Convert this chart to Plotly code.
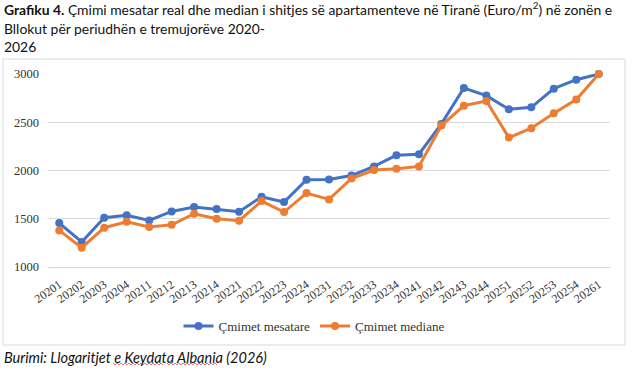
import plotly.graph_objects as go

categories = ["20201","20202","20203","20204","20211","20212","20213","20214",
              "20221","20222","20223","20224","20231","20232","20233","20234",
              "20241","20242","20243","20244","20251","20252","20253","20254","20261"]
mesatare = [1455,1259,1510,1535,1483,1576,1621,1600,1573,1728,1673,1904,1907,
            1948,2042,2159,2169,2483,2855,2776,2635,2655,2848,2941,3000]
mediane = [1379,1200,1407,1468,1414,1438,1552,1500,1480,1683,1569,1766,1700,
           1917,2004,2017,2042,2466,2672,2721,2341,2438,2593,2735,3000]
y_ticks = [1000,1500,2000,2500,3000]

BLUE = "#4472C4"
ORANGE = "#ED7D31"

# plot area pixels
L, R, T, B = 48, 610, 74, 267
W, H = R - L, B - T
def px(x): return (x - L) / W
def py(y): return (B - y) / H

fig = go.Figure()
fig.add_trace(go.Scatter(x=categories, y=mesatare, mode="lines+markers", name="Çmimet mesatare",
                         line=dict(color=BLUE, width=3), marker=dict(color=BLUE, size=8),
                         cliponaxis=False))
fig.add_trace(go.Scatter(x=categories, y=mediane, mode="lines+markers", name="Çmimet mediane",
                         line=dict(color=ORANGE, width=3), marker=dict(color=ORANGE, size=8),
                         cliponaxis=False))

fig.update_layout(
    width=640, height=380,
    margin=dict(l=L, r=640 - R, t=T, b=380 - B),
    paper_bgcolor="white", plot_bgcolor="white",
    showlegend=True,
    legend=dict(orientation="h", x=px(314), xanchor="center", y=py(326), yanchor="middle",
                font=dict(family="Liberation Serif", size=13, color="#333333"),
                bgcolor="rgba(0,0,0,0)", itemwidth=30),
    yaxis=dict(range=[1000, 3000], tickvals=y_ticks, showgrid=True, gridcolor="#D9D9D9",
               gridwidth=1, zeroline=False, showline=False, ticks="", ticklabelstandoff=8,
               tickfont=dict(family="Liberation Serif", size=12.5, color="#333333")),
)
fig.update_xaxes(type="category", tickangle=-35, showgrid=False, showline=True,
                 linecolor="#D9D9D9", linewidth=1, ticks="", ticklabelstandoff=5,
                 tickfont=dict(family="Liberation Serif", size=12, color="#333333"),
                 range=[-0.5, len(categories) - 0.5], automargin=False)

# chart border
fig.add_shape(type="rect", xref="paper", yref="paper",
              x0=px(3), x1=px(625), y0=py(345), y1=py(59),
              line=dict(color="#D9D9D9", width=1), fillcolor="rgba(0,0,0,0)", layer="below")

title_lines = [
    "<b>Grafiku 4.</b> Çmimi mesatar real dhe median i shitjes së apartamenteve në Tiranë (Euro/m<sup>2</sup>) në zonën e",
    "Bllokut për periudhën e tremujorëve 2020-",
    "2026",
]
for i, t in enumerate(title_lines):
    fig.add_annotation(text=t, xref="paper", yref="paper", x=px(2), y=py(9 + 19 * i),
                       xanchor="left", yanchor="middle", showarrow=False,
                       font=dict(family="Lato", size=13.9, color="#111111"))

fig.add_annotation(text="<i>Burimi: Llogaritjet e Keydata Albania (2026)</i>", xref="paper", yref="paper",
                   x=px(2), y=py(357), xanchor="left", yanchor="middle", showarrow=False,
                   font=dict(family="Lato", size=14.5, color="#111111"))

# spell-check squiggles under "Keydata" and "Albania"
def squiggle(x0, x1, y, step=2, amp=1):
    pts = []
    x, up = x0, True
    while x <= x1:
        pts.append((px(x), py(y - amp if up else y + amp)))
        x += step
        up = not up
    return "M " + " L ".join(f"{a:.5f},{b:.5f}" for a, b in pts)

for (a, b) in [(113, 163), (167, 218)]:
    fig.add_shape(type="path", xref="paper", yref="paper", path=squiggle(a, b, 364),
                  line=dict(color="#E05050", width=0.8))

fig.write_html("out.html")
